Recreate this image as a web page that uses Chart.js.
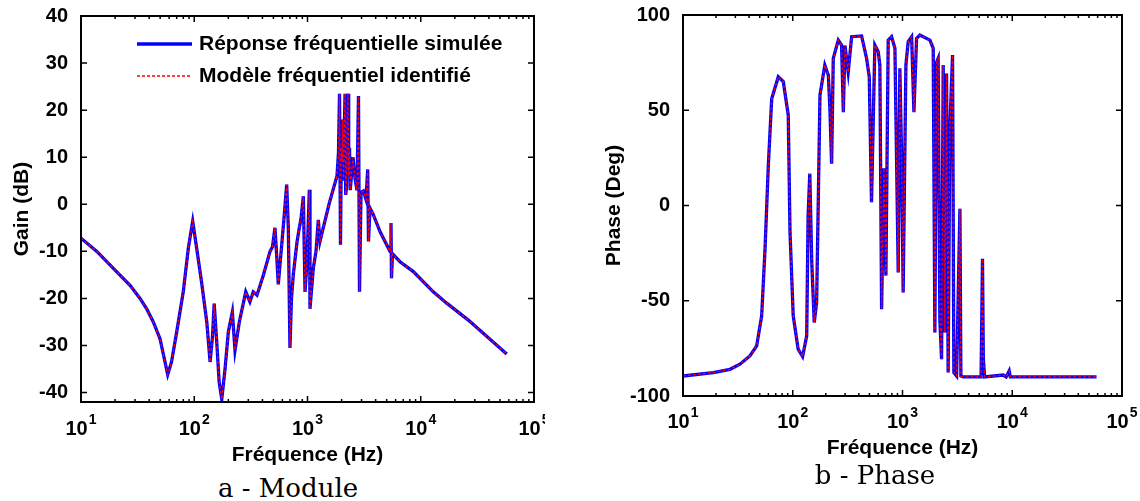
<!DOCTYPE html>
<html>
<head>
<meta charset="utf-8">
<script src="https://cdn.jsdelivr.net/npm/chart.js@4.4.1/dist/chart.umd.min.js"></script>
<style>
  html, body { margin: 0; padding: 0; background: #fff; }
  #wrap { position: relative; width: 1140px; height: 501px; overflow: hidden; }
  canvas { position: absolute; top: 0; }
  #gainChart { left: 0; }
  #phaseChart { left: 570px; }
  .caption { position: absolute; font-family: 'DejaVu Serif', serif; font-size: 26px; line-height: 30px;
             color: #000; white-space: nowrap; transform: translateX(-50%); }
</style>
</head>
<body>
<div id="wrap">
  <canvas id="gainChart" width="545" height="470"></canvas>
  <canvas id="phaseChart" width="570" height="470"></canvas>
  <div class="caption" style="left:288px; top:473px;">a - Module</div>
  <div class="caption" style="left:875px; top:460px;">b - Phase</div>
</div>
<script>
// values (Hz, dB, degrees)
const gainFreq = [10, 13.8, 19.3, 27.1, 33.2, 38, 43.5, 49.9, 55.2, 58.3, 63, 70, 80, 88.7, 96.9, 105, 116, 129, 138, 145,
  150, 158, 166, 175, 187, 200, 217, 229, 250, 285, 310, 332, 358, 408, 467, 491, 516, 534, 552, 592,
  620, 655, 677, 700, 722, 749, 808, 847, 877, 919, 951, 991, 1038, 1052, 1125, 1189, 1246, 1289, 1334, 1549,
  1679, 1822, 1878, 1917, 1940, 1956, 1990, 2017, 2050, 2079, 2110, 2144, 2175, 2210, 2245, 2279, 2310, 2349, 2385, 2422,
  2522, 2627, 2736, 2820, 2878, 2968, 3110, 3285,
  3401, 3457, 3563, 3811, 4368, 4834, 5352, 5461, 5517, 5630, 6558, 8596, 12900, 16950, 26300, 57400];
const gainSim = [-7.2, -10, -13.6, -17.2, -20, -22.2, -25, -28.6, -33.5, -36.2, -33.5, -27.1, -18.6, -9.3, -3.6, -9.3, -16.5, -25, -33.5, -28,
  -21.1, -29.3, -37.8, -41.4, -35, -27.1, -22.9, -31, -25, -18.6, -20.7, -18.6, -19.3, -15, -10, -9, -5, -10.7, -17, -8.6,
  -3, 4.2, -5, -30.5, -20, -15, -8, -5, -3, 1.7, -18.6, -12, 3.1, -22.2, -13.6, -10, -3.3, -7.9, -6.4, 0,
  3, 6, 11, 23.5, 5, -8.6, 12, 9, 18, 5, 14, 23.5, 2, 3.5, 20, 23.5, 6, 12, 3, 5,
  10, 5.5, 3, 23, -18.6, 2.5, 2.8, 1,
  7.4, -7.9, -0.8, -2.2, -5.8, -7.9, -10, -4, -15.7, -10.5, -12.2, -14.3, -18.6, -21, -24.6, -31.8];
const gainModel = [-7.2, -10, -13.6, -17.2, -20, -22.2, -25, -28.6, -33.5, -36.2, -33.5, -27.1, -18.6, -9.3, -3.6, -9.3, -16.5, -25, -33.5, -28,
  -21.1, -29.3, -37.8, -41.4, -35, -27.1, -22.9, -31, -25, -18.6, -20.7, -18.6, -19.3, -15, -10, -9, -5, -10.7, -17, -8.6,
  -3, 4.2, -5, -30.5, -20, -15, -8, -5, -3, 1.7, -18.6, -12, 3.1, -22.2, -13.6, -10, -3.3, -7.9, -6.4, 0,
  3, 6, 11, 23.5, 5, -8.6, 12, 9, 18, 5, 14, 23.5, 2, 3.5, 20, 23.5, 6, 12, 3, 5,
  10, 5.5, 3, 23, -18.6, 2.5, 2.8, 1,
  7.4, -7.9, -0.8, -2.2, -5.8, -7.9, -10, -4, -15.7, -10.5, -12.2, -14.3, -18.6, -21, -24.6, -31.8];

const phaseFreq = [10, 18.9, 26.8, 33, 40.7, 46.9, 52.1, 55.9, 59.9, 64.3, 73.8, 82, 91, 94.4, 101, 112, 123, 134, 138, 143,
  149, 157, 165, 171, 177, 196, 211, 218, 226, 234, 260, 278.6, 289, 299, 320, 344, 424, 471, 498, 522,
  560, 601, 622, 645, 677, 706, 741, 795, 853, 871, 914, 946, 981, 1014, 1074, 1127, 1211, 1271, 1343, 1439,
  1778, 1905, 1972, 2040, 2113, 2190, 2270, 2349, 2431, 2521, 2606, 2700, 2858, 2938, 3111, 3336, 3404, 3573, 5200, 5357, 5450, 5600, 8260,
  8800, 9376, 9600, 58600];
const phaseSim = [-89.5, -87.7, -86, -83.3, -79, -73.7, -57.9, -22.8, 21, 56, 67.5, 65, 47.4, -14, -57.9, -75.4, -79.3, -68.4, -5.3, 16.7,
  -29.8, -61.4, -50.9, 3.5, 57.9, 73.7, 68.4, 50.9, 21.9, 77.2, 86.8, 84.2, 49, 84, 70, 88.6, 89, 77.2, 67.5, 1.7,
  84.2, 80.7, 73.7, -54.4, 19.5, -36.8, 86.8, 88.6, 82.5, 47.4, -35.1, 72, 26.3, -45.6, 73.7, 86, 88.6, 49, 87.7, 89.5,
  86.8, 82.5, -66.7, 75, 77.2, -60, -80.7, 73.7, -66.7, 69.3, -87.7, 40, 79, -87.7, -89.5, -1.7, -89.5, -90, -90, -28, -80.5, -90, -89,
  -90, -86.8, -90, -90];
const phaseModel = [-89.5, -87.7, -86, -83.3, -79, -73.7, -57.9, -22.8, 21, 56, 67.5, 65, 47.4, -14, -57.9, -75.4, -79.3, -68.4, -5.3, 16.7,
  -29.8, -61.4, -50.9, 3.5, 57.9, 73.7, 68.4, 50.9, 21.9, 77.2, 86.8, 84.2, 49, 84, 70, 88.6, 89, 77.2, 67.5, 1.7,
  84.2, 80.7, 73.7, -54.4, 19.5, -36.8, 86.8, 88.6, 82.5, 47.4, -35.1, 72, 26.3, -45.6, 73.7, 86, 88.6, 49, 87.7, 89.5,
  86.8, 82.5, -66.7, 75, 77.2, -60, -80.7, 73.7, -66.7, 69.3, -87.7, 40, 79, -87.7, -89.5, -1.7, -89.5, -90, -90, -28, -80.5, -90, -89,
  -90, -86.8, -90, -90];

const freqTicks = [10, 100, 1000, 10000, 100000];
const gainTicks = [-40, -30, -20, -10, 0, 10, 20, 30, 40];
const phaseTicks = [-100, -50, 0, 50, 100];
const legendLabels = ['Réponse fréquentielle simulée', 'Modèle fréquentiel identifié'];

const FAMILY = "'Liberation Sans', Arial, sans-serif";

// MATLAB-like box with inward ticks (minor ones on the log axis)
const boxTicks = {
  id: 'boxTicks',
  afterDatasetsDraw(chart) {
    const { ctx, chartArea: a, scales: { x, y } } = chart;
    ctx.save();
    ctx.strokeStyle = '#000';
    ctx.lineWidth = 1.5;
    ctx.beginPath();
    freqTicks.forEach((dec, i) => {
      for (let m = 1; m < 10; m++) {
        if (m > 1 && i === freqTicks.length - 1) break;
        const px = x.getPixelForValue(dec * m);
        const len = m === 1 ? 6 : 3;
        ctx.moveTo(px, a.bottom); ctx.lineTo(px, a.bottom - len);
        ctx.moveTo(px, a.top); ctx.lineTo(px, a.top + len);
      }
    });
    y.ticks.forEach(t => {
      const py = y.getPixelForValue(t.value);
      ctx.moveTo(a.left, py); ctx.lineTo(a.left + 6, py);
      ctx.moveTo(a.right, py); ctx.lineTo(a.right - 6, py);
    });
    ctx.stroke();
    ctx.lineWidth = 2;
    ctx.strokeRect(a.left, a.top, a.right - a.left, a.bottom - a.top);
    ctx.restore();
  }
};

// "10" with a raised exponent under each decade
const decadeLabels = {
  id: 'decadeLabels',
  afterDraw(chart, args, opts) {
    const { ctx, scales: { x } } = chart;
    ctx.save();
    ctx.fillStyle = '#000';
    ctx.textAlign = 'left';
    ctx.textBaseline = 'alphabetic';
    freqTicks.forEach(v => {
      const e = String(Math.round(Math.log10(v)));
      ctx.font = 'bold 20px ' + FAMILY;
      const w1 = ctx.measureText('10').width;
      ctx.font = 'bold 14px ' + FAMILY;
      const w2 = ctx.measureText(e).width;
      const x0 = x.getPixelForValue(v) - (w1 + w2 + 1) / 2;
      ctx.font = 'bold 20px ' + FAMILY;
      ctx.fillText('10', x0, opts.baseline);
      ctx.font = 'bold 14px ' + FAMILY;
      ctx.fillText(e, x0 + w1 + 1, opts.baseline - 11);
    });
    ctx.restore();
  }
};

const matlabLegend = {
  id: 'matlabLegend',
  afterDraw(chart, args, opts) {
    if (!opts.show) return;
    const { ctx } = chart;
    const rows = [44, 76];
    ctx.save();
    chart.data.datasets.forEach((ds, i) => {
      ctx.beginPath();
      ctx.strokeStyle = ds.borderColor;
      ctx.lineWidth = ds.borderWidth;
      ctx.setLineDash(ds.borderDash || []);
      ctx.moveTo(137, rows[i]); ctx.lineTo(192, rows[i]);
      ctx.stroke();
      ctx.setLineDash([]);
      ctx.fillStyle = '#000';
      ctx.font = 'bold 21px ' + FAMILY;
      ctx.textBaseline = 'middle';
      ctx.fillText(ds.label, 199, rows[i]);
    });
    ctx.restore();
  }
};

function makeChart(id, cfg) {
  const pts = (xs, ys) => xs.map((f, i) => ({ x: f, y: ys[i] }));
  return new Chart(document.getElementById(id), {
    type: 'line',
    data: {
      datasets: [
        { label: legendLabels[0], data: pts(cfg.freq, cfg.sim), borderColor: '#0000ff', borderWidth: 3.3,
          pointRadius: 0, tension: 0, order: 1 },
        { label: legendLabels[1], data: pts(cfg.freq, cfg.model), borderColor: '#ff0000', borderWidth: 1.3,
          borderDash: [3, 2], pointRadius: 0, tension: 0, order: 0 }
      ]
    },
    options: {
      responsive: false,
      animation: false,
      devicePixelRatio: 1,
      layout: { padding: cfg.pad },
      plugins: {
        legend: { display: false },
        tooltip: { enabled: false },
        matlabLegend: { show: cfg.legend },
        decadeLabels: { baseline: cfg.labelBase }
      },
      scales: {
        x: {
          type: 'logarithmic',
          min: 10,
          max: 100000,
          afterBuildTicks: s => { s.ticks = freqTicks.map(v => ({ value: v })); },
          afterFit: s => { s.height = cfg.xH; s.paddingLeft = 0; s.paddingRight = 0; },
          grid: { display: false },
          border: { display: false },
          ticks: { display: false },
          title: { display: true, text: 'Fréquence (Hz)', color: '#000',
                   font: { family: FAMILY, weight: 'bold', size: 21 }, padding: { bottom: cfg.xTitlePad } }
        },
        y: {
          min: cfg.yMin,
          max: cfg.yMax,
          afterBuildTicks: s => { s.ticks = cfg.yTicks.map(v => ({ value: v })); },
          afterFit: s => { s.width = cfg.yW; s.paddingTop = 0; s.paddingBottom = 0; },
          grid: { display: false },
          border: { display: false },
          ticks: { padding: 5, color: '#000', font: { family: FAMILY, weight: 'bold', size: 20 } },
          title: { display: true, text: cfg.yTitle, color: '#000',
                   font: { family: FAMILY, weight: 'bold', size: 21 }, padding: { top: cfg.yTitlePad } }
        }
      }
    },
    plugins: [boxTicks, decadeLabels, matlabLegend]
  });
}

makeChart('gainChart', {
  freq: gainFreq, sim: gainSim, model: gainModel,
  yMin: -42, yMax: 40, yTicks: gainTicks, yTitle: 'Gain (dB)',
  pad: { top: 16, right: 11, bottom: 0, left: 0 }, yW: 81, xH: 68,
  labelBase: 435, xTitlePad: 2, yTitlePad: 10, legend: true
});

makeChart('phaseChart', {
  freq: phaseFreq, sim: phaseSim, model: phaseModel,
  yMin: -100, yMax: 100, yTicks: phaseTicks, yTitle: 'Phase (Deg)',
  pad: { top: 15, right: 18, bottom: 0, left: 0 }, yW: 113, xH: 74,
  labelBase: 428, xTitlePad: 9, yTitlePad: 32, legend: false
});
</script>
</body>
</html>
